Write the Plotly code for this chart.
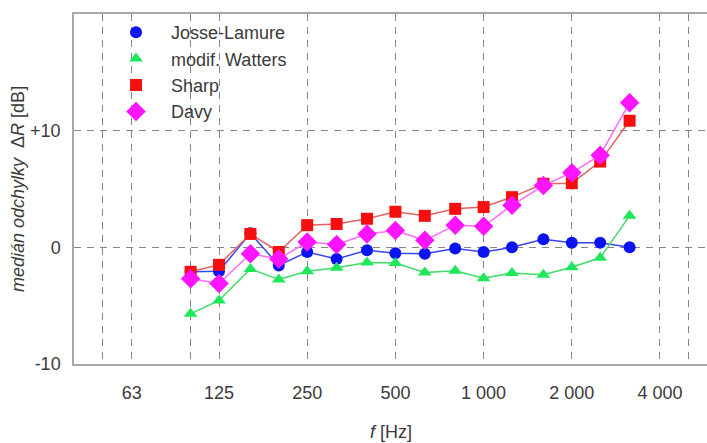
import plotly.graph_objects as go

# Third-octave band centre frequencies [Hz]
freq = [100, 125, 160, 200, 250, 315, 400, 500, 630, 800, 1000, 1250, 1600, 2000, 2500, 3150]

# Median deviation of predicted sound reduction index, per model [dB]
josse_lamure = [-2.1, -2.05, 1.2, -1.55, -0.4, -1.0, -0.25, -0.5, -0.55, -0.1, -0.4, 0.0, 0.7, 0.4, 0.4, 0.0]
modif_watters = [-5.7, -4.55, -1.85, -2.75, -2.05, -1.75, -1.3, -1.35, -2.15, -2.0, -2.65, -2.2, -2.35, -1.7, -0.9, 2.7]
sharp = [-2.1, -1.5, 1.15, -0.4, 1.9, 2.0, 2.45, 3.05, 2.7, 3.3, 3.45, 4.3, 5.45, 5.5, 7.35, 10.85]
davy = [-2.7, -3.1, -0.55, -1.0, 0.45, 0.25, 1.15, 1.45, 0.6, 1.9, 1.8, 3.6, 5.3, 6.4, 7.9, 12.4]

# Axis ticks
x_tickvals = [50, 63, 100, 125, 250, 500, 1000, 2000, 4000, 5000]
x_ticktext = ["", "63", "", "125", "250", "500", "1 000", "2 000", "4 000", ""]
y_tickvals = [-10, 0, 10]
y_ticktext = ["-10", "0", "+10"]

series = [
    ("Josse-Lamure", josse_lamure, "circle", 12, "#0a14f0", "#3a44f0"),
    ("modif. Watters", modif_watters, "triangle-up", 12, "#1ee85a", "#40dc6a"),
    ("Sharp", sharp, "square", 12, "#f50f0f", "#e06262"),
    ("Davy", davy, "diamond", 15, "#ff14ff", "#ff6cff"),
]

FONT = "Liberation Sans, Arial, sans-serif"
TXT = "#3a3a3a"

fig = go.Figure()
for name, vals, sym, size, mcol, lcol in series:
    fig.add_trace(go.Scatter(
        x=freq, y=vals, mode="lines+markers", name=name, showlegend=False,
        line=dict(color=lcol, width=1.5),
        marker=dict(symbol=sym, size=size, color=mcol, line=dict(width=0)),
    ))
# legend entries showing the marker only
for i, (name, vals, sym, size, mcol, lcol) in enumerate(series):
    fig.add_trace(go.Scatter(
        x=[None], y=[None], mode="markers", name=name, legendgroup=f"g{i}",
        marker=dict(symbol=sym, size=size, color=mcol, line=dict(width=0)),
    ))

grid = dict(showgrid=True, gridcolor="#858585", gridwidth=1, griddash="7px,6px")

fig.update_xaxes(
    type="log", range=[1.6020, 3.7625],
    tickvals=x_tickvals, ticktext=x_ticktext,
    showline=True, linecolor="#a8a8a8", linewidth=1.5, mirror=True,
    ticks="", ticklabelstandoff=12, zeroline=False,
    tickfont=dict(family=FONT, size=18, color=TXT), **grid,
)
fig.update_yaxes(
    range=[-10, 20], tickvals=y_tickvals, ticktext=y_ticktext,
    showline=True, linecolor="#a8a8a8", linewidth=1.5,
    ticks="", ticklabelstandoff=8, zeroline=False,
    tickfont=dict(family=FONT, size=18, color=TXT), **grid,
)

fig.update_layout(
    width=707, height=443,
    margin=dict(l=74, r=0, t=14, b=79),
    paper_bgcolor="white", plot_bgcolor="white",
    font=dict(family=FONT, size=18, color=TXT),
    showlegend=True,
    legend=dict(
        x=0.0427, y=1.0, xanchor="left", yanchor="top",
        bgcolor="rgba(255,255,255,0)", borderwidth=0,
        font=dict(family=FONT, size=18, color=TXT),
        tracegroupgap=0, itemwidth=60,
    ),
    annotations=[
        dict(text="<i>medián odchylky</i>  Δ<i>R</i> [dB]", xref="paper", yref="paper",
             x=-56 / 633, y=0.5, xanchor="center", yanchor="middle", textangle=-90,
             showarrow=False, font=dict(family=FONT, size=18, color=TXT)),
        dict(text="<i>f</i> [Hz]", xref="paper", yref="paper",
             x=0.5, y=-68 / 350, xanchor="center", yanchor="middle",
             showarrow=False, font=dict(family=FONT, size=18, color=TXT)),
    ],
)

fig.write_html("out.html")
